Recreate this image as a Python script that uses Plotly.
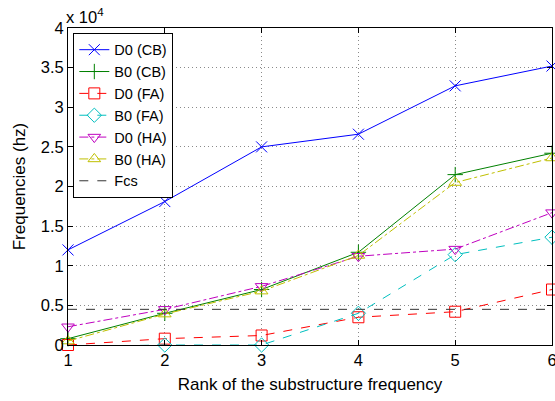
import plotly.graph_objects as go

ranks = [1, 2, 3, 4, 5, 6]
# frequencies in units of 10^4 hz
d0_cb = [1.20, 1.81, 2.50, 2.66, 3.27, 3.52]
b0_cb = [0.08, 0.40, 0.70, 1.17, 2.15, 2.42]
d0_fa = [0.00, 0.08, 0.12, 0.35, 0.42, 0.70]
b0_fa = [-0.02, 0.00, 0.00, 0.40, 1.14, 1.36]
d0_ha = [0.23, 0.45, 0.74, 1.12, 1.21, 1.67]
b0_ha = [0.05, 0.39, 0.68, 1.13, 2.05, 2.36]
fcs = 0.45
y_ticks = [0, 0.5, 1, 1.5, 2, 2.5, 3, 3.5, 4]
y_ticklabels = ["0", "0.5", "1", "1.5", "2", "2.5", "3", "3.5", "4"]

series = [
    ("D0 (CB)", d0_cb, "#0000ff", "solid", "x-thin-open"),
    ("B0 (CB)", b0_cb, "#008000", "solid", "cross-thin-open"),
    ("D0 (FA)", d0_fa, "#ff0000", "dash", "square-open"),
    ("B0 (FA)", b0_fa, "#00bfbf", "dash", "diamond-open"),
    ("D0 (HA)", d0_ha, "#bf00bf", "dashdot", "triangle-down-open"),
    ("B0 (HA)", b0_ha, "#bfbf00", "dashdot", "triangle-up-open"),
]

FS = 16.5

fig = go.Figure()
for name, vals, color, dash, sym in series:
    fig.add_trace(go.Scatter(
        x=ranks, y=vals, name=name, mode="lines+markers",
        line=dict(color=color, width=1, dash=dash),
        marker=dict(symbol=sym, size=11, color=color, line=dict(color=color, width=1)),
        cliponaxis=False,
    ))
fig.add_trace(go.Scatter(
    x=[ranks[0], ranks[-1]], y=[fcs, fcs], name="Fcs", mode="lines",
    line=dict(color="#333333", width=1, dash="dash"),
))

axis_common = dict(
    showline=True, linecolor="black", linewidth=1, mirror="ticks",
    ticks="inside", ticklen=5, tickcolor="black",
    showgrid=True, gridcolor="#8a8a8a", griddash="1px,3px", gridwidth=1,
    zeroline=False, tickfont=dict(size=FS, color="black"),
    automargin=False, ticklabeloverflow="allow",
)
fig.update_xaxes(range=[1, 6], tickvals=ranks,
                 title=dict(text="Rank of the substructure frequency",
                            font=dict(size=17, color="black"), standoff=10),
                 **axis_common)
fig.update_yaxes(range=[0, 4], tickvals=y_ticks, ticktext=y_ticklabels,
                 title=dict(text="Frequencies (hz)", font=dict(size=17, color="black"), standoff=10),
                 **axis_common)

fig.add_annotation(x=0, y=1, xref="paper", yref="paper", xanchor="left", yanchor="bottom",
                   text="x 10<sup>4</sup>", showarrow=False, font=dict(size=FS, color="black"),
                   xshift=-4, yshift=0)

fig.update_layout(
    width=555, height=401,
    margin=dict(l=68, r=3, t=28, b=56),
    paper_bgcolor="white", plot_bgcolor="white",
    font=dict(family="Liberation Sans, Arial, sans-serif", size=FS, color="black"),
    legend=dict(x=0.011, y=0.985, xanchor="left", yanchor="top",
                bgcolor="white", bordercolor="black", borderwidth=1,
                font=dict(size=14.5), tracegroupgap=0, itemwidth=30),
    showlegend=True,
)

fig.write_html(
    "out.html",
    config={"displayModeBar": False},
    post_script="document.body.style.margin='0';document.body.style.overflow='hidden';",
)
